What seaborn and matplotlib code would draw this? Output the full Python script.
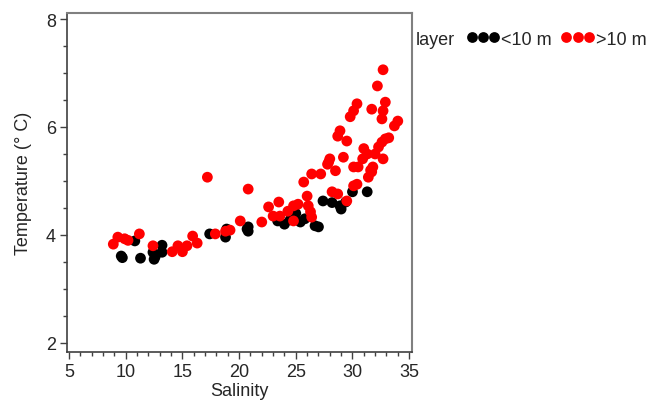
import matplotlib
matplotlib.use("Agg")
import matplotlib.pyplot as plt
import pandas as pd
import seaborn as sns
from matplotlib.ticker import MultipleLocator

# values
shallow_sal = [9.6, 9.7, 10.8, 11.3, 12.5, 12.6, 12.4, 13.2, 13.2, 17.4, 18.8, 18.9,
               20.7, 20.8, 20.8, 23.4, 24.0, 24.5, 24.7, 25.0, 25.4, 25.8, 26.7, 27.0,
               27.4, 28.2, 29.0, 28.9, 29.4, 30.0, 31.3]
shallow_temp = [3.61, 3.58, 3.89, 3.57, 3.55, 3.60, 3.68, 3.68, 3.81, 4.02, 3.96, 4.11,
                4.11, 4.15, 4.07, 4.26, 4.20, 4.28, 4.33, 4.40, 4.24, 4.30, 4.17, 4.15,
                4.63, 4.60, 4.48, 4.54, 4.61, 4.80, 4.80]

deep_sal = [8.9, 9.3, 9.9, 10.2, 11.2, 12.4, 14.1, 14.6, 15.0, 15.4, 15.9, 16.3,
            17.2, 17.9, 18.8, 19.2, 20.1, 20.8, 22.0, 22.6, 23.0, 23.5, 23.6, 24.3,
            24.8, 24.8, 25.2, 26.0, 26.1, 26.3, 26.4, 25.7, 26.4, 27.2, 27.9, 28.5,
            28.2, 28.7, 29.5, 30.1, 30.1, 32.7, 32.2, 30.4, 30.1, 29.8, 31.7, 32.9,
            32.7, 32.6, 34.0, 33.7, 28.9, 28.7, 29.5, 29.2, 28.0, 27.8, 32.9, 32.6,
            32.3, 32.0, 32.7, 31.3, 30.9, 30.5, 31.8, 31.7, 31.4, 30.4, 33.2, 31.0,
            31.6]
deep_temp = [3.83, 3.96, 3.93, 3.90, 4.02, 3.80, 3.69, 3.80, 3.69, 3.80, 3.98, 3.85,
             5.07, 4.02, 4.07, 4.09, 4.26, 4.85, 4.24, 4.52, 4.35, 4.61, 4.35, 4.44,
             4.54, 4.26, 4.57, 4.72, 4.54, 4.43, 4.33, 4.98, 5.13, 5.13, 5.35, 5.19,
             4.80, 4.76, 4.63, 4.91, 5.26, 7.06, 6.76, 6.43, 6.30, 6.19, 6.33, 6.46,
             6.30, 6.15, 6.11, 6.02, 5.93, 5.83, 5.74, 5.44, 5.41, 5.31, 5.78, 5.72,
             5.63, 5.50, 5.41, 5.50, 5.41, 5.26, 5.26, 5.17, 5.07, 4.94, 5.80, 5.60,
             5.20]

layers = ['<10 m', '>10 m']
colors = {'<10 m': '#000000', '>10 m': '#ff0000'}

df = pd.concat([
    pd.DataFrame({'Salinity': shallow_sal, 'Temperature': shallow_temp, 'layer': layers[0]}),
    pd.DataFrame({'Salinity': deep_sal, 'Temperature': deep_temp, 'layer': layers[1]}),
], ignore_index=True)

sns.set_style("white")
plt.rcParams['font.family'] = ['Liberation Sans', 'DejaVu Sans']
fs = 13

fig = plt.figure(figsize=(6.51, 4.14), dpi=100)
ax = fig.add_axes([0.103, 0.147, 0.530, 0.819])

sns.scatterplot(data=df, x='Salinity', y='Temperature', hue='layer', hue_order=layers,
                palette=colors, s=60, linewidth=0, alpha=1, ax=ax)

ax.set_xlim(4.82, 35.26)
ax.set_ylim(1.83, 8.11)
ax.xaxis.set_major_locator(MultipleLocator(5))
ax.xaxis.set_minor_locator(MultipleLocator(1))
ax.yaxis.set_major_locator(MultipleLocator(2))
ax.yaxis.set_minor_locator(MultipleLocator(0.5))
ax.tick_params(which='major', direction='out', length=5, width=1, color='#404040',
               labelsize=fs, pad=3, bottom=True, left=True)
ax.tick_params(which='minor', direction='out', length=3, width=1, color='#404040',
               bottom=True, left=True)
ax.set_xlabel('Salinity', fontsize=fs, labelpad=1)
ax.set_ylabel('Temperature (° C)', fontsize=fs, labelpad=10)

for side in ['left', 'bottom']:
    ax.spines[side].set_color('#404040')
    ax.spines[side].set_linewidth(1.2)
for side in ['top', 'right']:
    ax.spines[side].set_color('#808080')
    ax.spines[side].set_linewidth(1.5)

handles, labels = ax.get_legend_handles_labels()
ax.get_legend().remove()
fig.text(0.638, 0.903, 'layer', fontsize=fs, va='center', ha='left')
fig.legend(handles, labels, ncol=2, loc='center left', bbox_to_anchor=(0.716, 0.903),
           frameon=False, numpoints=3, scatterpoints=3, markerscale=1.0,
           handlelength=1.85, handletextpad=0.1, columnspacing=0.5,
           borderaxespad=0, borderpad=0, fontsize=fs)

fig.savefig('out.png', dpi=100)
